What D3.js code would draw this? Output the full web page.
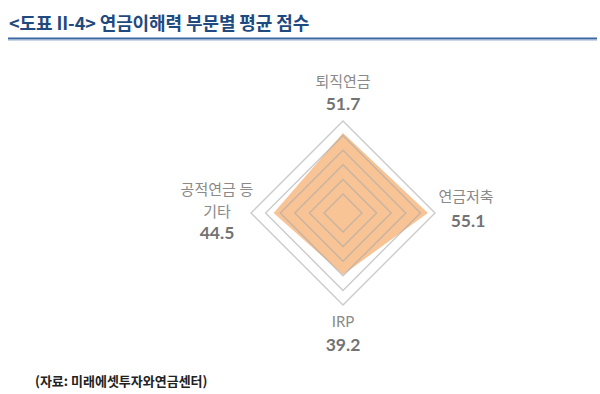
<!DOCTYPE html>
<html><head><meta charset="utf-8">
<script src="https://cdn.jsdelivr.net/npm/d3@7"></script>
<style>
body{margin:0;background:#fff;}
svg{display:block;}
</style></head>
<body>
<svg id="c" width="600" height="394"></svg>
<script>
const categories = ["퇴직연금", "연금저축", "IRP", "공적연금 등 기타"];
const categoryLines = [["퇴직연금"], ["연금저축"], ["IRP"], ["공적연금 등", "기타"]];
const values = [51.7, 55.1, 39.2, 44.5];
const gridValues = [10, 20, 30, 40, 50, 60];
const titleText = "<도표 II-4> 연금이해력 부문별 평균 점수";
const sourceText = "(자료: 미래에셋투자와연금센터)";

const svg = d3.select("#c");
const cx = 343, cy = 213;
const r = d3.scaleLinear().domain([-3, 60]).range([0, 92]);
const angle = d3.scalePoint().domain(d3.range(categories.length)).range([0, 2*Math.PI*(categories.length-1)/categories.length]);
const pt = (i, v) => [cx + r(v)*Math.sin(angle(i)), cy - r(v)*Math.cos(angle(i))];

// title
svg.append("text").attr("x", 9).attr("y", 30)
  .attr("font-family", "'Noto Sans CJK KR', 'Noto Sans', sans-serif")
  .attr("font-weight", 700).attr("font-size", 18).attr("fill", "#1f4a80")
  .attr("letter-spacing", -0.1)
  .text(titleText);
svg.append("line").attr("x1", 8).attr("x2", 597).attr("y1", 38.5).attr("y2", 38.5)
  .attr("stroke", "#3a67a3").attr("stroke-width", 2.2);
svg.append("line").attr("x1", 8).attr("x2", 597).attr("y1", 40.5).attr("y2", 40.5)
  .attr("stroke", "#c9d6e8").attr("stroke-width", 1);

const line = d3.line();
// series fill
svg.append("path")
  .attr("d", line(values.map((v, i) => pt(i, v))) + "Z")
  .attr("fill", "#f8c496");

// grid rings (drawn above the fill, semi-transparent gray)
gridValues.forEach(g => {
  svg.append("path")
    .attr("d", line(categories.map((c, i) => pt(i, g))) + "Z")
    .attr("fill", "none")
    .attr("stroke", "#a8a8a8").attr("stroke-opacity", 0.6)
    .attr("stroke-width", 1.4);
});

// labels
const labelLayout = [
  {x: cx, y: 86.7, dyVal: 23.5},
  {x: 466, y: 201.7, dyVal: 25},
  {x: cx, y: 326.7, dyVal: 24},
  {x: 217, y: 195, dyVal: 22}
];
categories.forEach((c, i) => {
  const L = labelLayout[i];
  const lines = categoryLines[i];
  const g = svg.append("g");
  lines.forEach((t, k) => {
    g.append("text").attr("x", L.x).attr("y", L.y + k*L.dyVal)
      .attr("text-anchor", "middle")
      .attr("font-family", "Lato, 'Noto Sans CJK KR', sans-serif")
      .attr("font-size", 15).attr("fill", "#8a8a8a")
      .text(t);
  });
  g.append("text").attr("x", L.x + (i === 1 ? 2 : 0)).attr("y", L.y + lines.length*L.dyVal)
    .attr("text-anchor", "middle")
    .attr("font-family", "Lato, sans-serif").attr("font-weight", 700)
    .attr("font-size", 17.5).attr("fill", "#737373")
    .text(d3.format(".1f")(values[i]));
});

// source
svg.append("text").attr("x", 35).attr("y", 386)
  .attr("font-family", "'Noto Sans CJK KR', sans-serif")
  .attr("font-weight", 700).attr("font-size", 13).attr("fill", "#222")
  .text(sourceText);
</script>
</body></html>
